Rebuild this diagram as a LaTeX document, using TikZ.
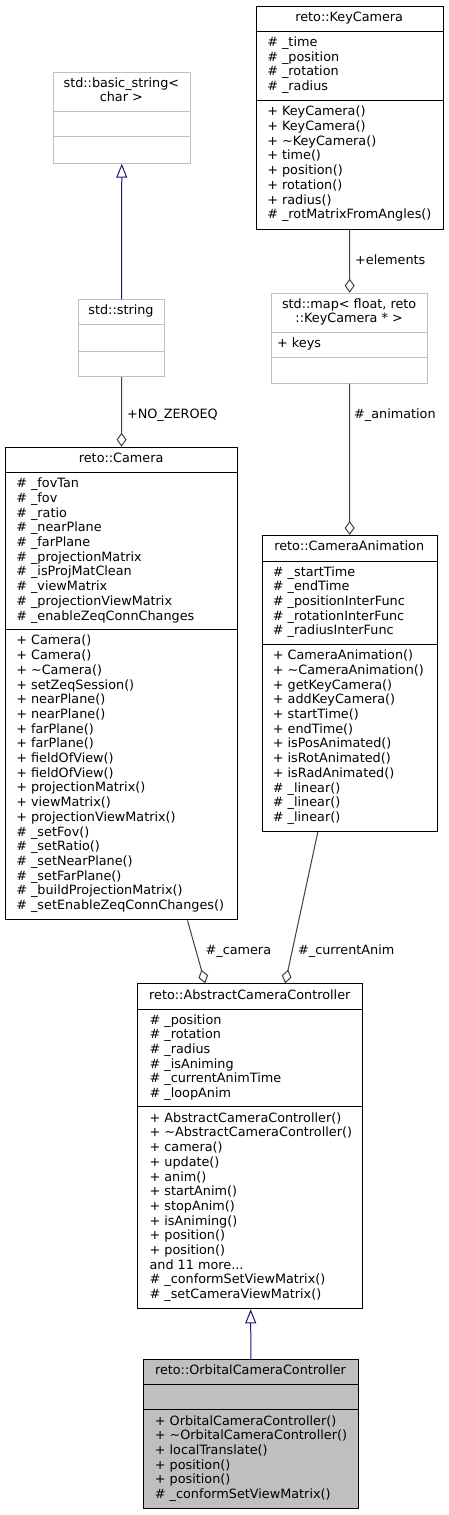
\documentclass[tikz,border=0pt]{standalone}
\usepackage{fontspec}
\setmainfont{DejaVu Sans}
\usetikzlibrary{arrows.meta}
\definecolor{grey25}{HTML}{404040}
\definecolor{grey75}{HTML}{BFBFBF}
\definecolor{midnightblue}{HTML}{191970}

\begin{document}
\begin{tikzpicture}[
    x=1pt, y=-1pt,
    klass/.style={rectangle, draw=#1, line width=1pt, fill=white,
        inner sep=0pt, anchor=north west},
    klass/.default=black,
    divider/.style={draw=#1, line width=1pt},
    divider/.default=black,
    txt/.style={inner sep=0pt, font=\fontsize{12.8}{14.7}\selectfont},
    cname/.style={txt, anchor=center},
    members/.style={txt, anchor=west},
    lbl/.style={txt, anchor=west},
    aggr/.style={draw=grey25, line width=1pt,
        -{Diamond[open, length=14pt, width=10pt]}},
    inherit/.style={draw=midnightblue, line width=1pt,
        -{Triangle[open, length=14pt, width=11pt]}},
]
\useasboundingbox (0,0) rectangle (448,1515);

% std::basic_string< char >
\node[klass=grey75, minimum width=137.3pt, minimum height=91pt] (basicstr) at (52.7,71.7) {};
\draw[divider=grey75] (52.7,111.7) -- (190,111.7) (52.7,136.7) -- (190,136.7);
\node[cname] (basicstr-name) at (121.35,91.7)
    {\begin{tabular}{@{}c@{}}std::basic\_string<\\char >\end{tabular}};

% std::string
\node[klass=grey75, minimum width=86.6pt, minimum height=76.7pt] (stdstring) at (77.7,299.3) {};
\draw[divider=grey75] (77.7,324.3) -- (164.3,324.3) (77.7,351) -- (164.3,351);
\node[cname] (stdstring-name) at (121,311.8)
    {\begin{tabular}{@{}c@{}}std::string\end{tabular}};

% reto::KeyCamera
\node[klass, minimum width=187pt, minimum height=223pt] (keycam) at (255.7,5.7) {};
\draw[divider] (255.7,31.3) -- (442.7,31.3) (255.7,100) -- (442.7,100);
\node[cname] (keycam-name) at (349.2,18.5)
    {\begin{tabular}{@{}c@{}}reto::KeyCamera\end{tabular}};
\node[members] (keycam-attrs) at (267.1,65.65)
    {\begin{tabular}{@{}l@{}}\# \_time\\\# \_position\\\# \_rotation\\\# \_radius\end{tabular}};
\node[members] (keycam-ops) at (267.1,164.35)
    {\begin{tabular}{@{}l@{}}+ KeyCamera()\\+ KeyCamera()\\+ \textasciitilde KeyCamera()\\+ time()\\
    + position()\\+ rotation()\\+ radius()\\\# \_rotMatrixFromAngles()\end{tabular}};

% std::map< float, reto::KeyCamera * >
\node[klass=grey75, minimum width=156.3pt, minimum height=90pt] (map) at (271,292.7) {};
\draw[divider=grey75] (271,332.3) -- (427.3,332.3) (271,357.7) -- (427.3,357.7);
\node[cname] (map-name) at (349.15,312.5)
    {\begin{tabular}{@{}c@{}}std::map< float, reto\\::KeyCamera * >\end{tabular}};
\node[members] (map-attrs) at (277,345)
    {\begin{tabular}{@{}l@{}}+ keys\end{tabular}};

% reto::Camera
\node[klass, minimum width=232.3pt, minimum height=472.6pt] (camera) at (5,446.7) {};
\draw[divider] (5,472.7) -- (237.3,472.7) (5,629.3) -- (237.3,629.3);
\node[cname] (camera-name) at (121.15,459.7)
    {\begin{tabular}{@{}c@{}}reto::Camera\end{tabular}};
\node[members] (camera-attrs) at (16.1,551)
    {\begin{tabular}{@{}l@{}}\# \_fovTan\\\# \_fov\\\# \_ratio\\\# \_nearPlane\\\# \_farPlane\\
    \# \_projectionMatrix\\\# \_isProjMatClean\\\# \_viewMatrix\\\# \_projectionViewMatrix\\
    \# \_enableZeqConnChanges\end{tabular}};
\node[members] (camera-ops) at (16.1,774.3)
    {\begin{tabular}{@{}l@{}}+ Camera()\\+ Camera()\\+ \textasciitilde Camera()\\+ setZeqSession()\\
    + nearPlane()\\+ nearPlane()\\+ farPlane()\\+ farPlane()\\+ fieldOfView()\\+ fieldOfView()\\
    + projectionMatrix()\\+ viewMatrix()\\+ projectionViewMatrix()\\\# \_setFov()\\\# \_setRatio()\\
    \# \_setNearPlane()\\\# \_setFarPlane()\\\# \_buildProjectionMatrix()\\
    \# \_setEnableZeqConnChanges()\end{tabular}};

% reto::CameraAnimation
\node[klass, minimum width=175pt, minimum height=296pt] (camanim) at (261.7,535) {};
\draw[divider] (261.7,561) -- (436.7,561) (261.7,644.3) -- (436.7,644.3);
\node[cname] (camanim-name) at (349.2,548)
    {\begin{tabular}{@{}c@{}}reto::CameraAnimation\end{tabular}};
\node[members] (camanim-attrs) at (272.7,602.65)
    {\begin{tabular}{@{}l@{}}\# \_startTime\\\# \_endTime\\\# \_positionInterFunc\\
    \# \_rotationInterFunc\\\# \_radiusInterFunc\end{tabular}};
\node[members] (camanim-ops) at (272.7,737.65)
    {\begin{tabular}{@{}l@{}}+ CameraAnimation()\\+ \textasciitilde CameraAnimation()\\+ getKeyCamera()\\
    + addKeyCamera()\\+ startTime()\\+ endTime()\\+ isPosAnimated()\\+ isRotAnimated()\\
    + isRadAnimated()\\\# \_linear()\\\# \_linear()\\\# \_linear()\end{tabular}};

% reto::AbstractCameraController
\node[klass, minimum width=225pt, minimum height=325pt] (abstract) at (137.3,983.3) {};
\draw[divider] (137.3,1009) -- (362.3,1009) (137.3,1106.7) -- (362.3,1106.7);
\node[cname] (abstract-name) at (249.8,996.15)
    {\begin{tabular}{@{}c@{}}reto::AbstractCameraController\end{tabular}};
\node[members] (abstract-attrs) at (149.4,1057.85)
    {\begin{tabular}{@{}l@{}}\# \_position\\\# \_rotation\\\# \_radius\\\# \_isAniming\\
    \# \_currentAnimTime\\\# \_loopAnim\end{tabular}};
\node[members] (abstract-ops) at (149.4,1207.5)
    {\begin{tabular}{@{}l@{}}+ AbstractCameraController()\\+ \textasciitilde AbstractCameraController()\\
    + camera()\\+ update()\\+ anim()\\+ startAnim()\\+ stopAnim()\\+ isAniming()\\+ position()\\
    + position()\\and 11 more...\\\# \_conformSetViewMatrix()\\\# \_setCameraViewMatrix()\end{tabular}};

% reto::OrbitalCameraController
\node[klass, fill=grey75, minimum width=214.4pt, minimum height=149pt] (orbital) at (143.3,1359.3) {};
\draw[divider] (143.3,1384.3) -- (357.7,1384.3) (143.3,1409.3) -- (357.7,1409.3);
\node[cname] (orbital-name) at (250.5,1371.8)
    {\begin{tabular}{@{}c@{}}reto::OrbitalCameraController\end{tabular}};
\node[members] (orbital-ops) at (154.7,1458.8)
    {\begin{tabular}{@{}l@{}}+ OrbitalCameraController()\\+ \textasciitilde OrbitalCameraController()\\
    + localTranslate()\\+ position()\\+ position()\\\# \_conformSetViewMatrix()\end{tabular}};

% Edges
\draw[inherit] (stdstring) -- (basicstr);
\draw[aggr] (stdstring) -- node[lbl, pos=0.55, xshift=5pt] (noZeroEq-lbl) {+NO\_ZEROEQ} (camera);
\draw[aggr] (keycam) -- node[lbl, pos=0.48, xshift=5pt] (elements-lbl) {+elements} (map);
\draw[aggr] (map) -- node[lbl, pos=0.21, xshift=4pt] (animation-lbl) {\#\_animation} (camanim);
\draw[aggr] (camera) -- node[lbl, pos=0.49, xshift=9pt] (camera-lbl) {\#\_camera} (abstract);
\draw[aggr] (camanim) -- node[lbl, pos=0.786, xshift=5.5pt] (currentAnim-lbl) {\#\_currentAnim} (abstract);
\draw[inherit] (orbital) -- (abstract);
\end{tikzpicture}
\end{document}
